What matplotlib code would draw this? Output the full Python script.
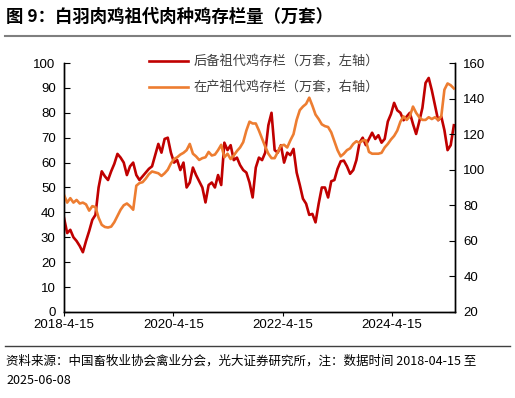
import numpy as np
import pandas as pd
import matplotlib
matplotlib.use('Agg')
import matplotlib.pyplot as plt
import matplotlib.dates as mdates

plt.rcParams['font.family'] = ['Liberation Sans', 'Noto Sans CJK SC', 'DejaVu Sans']

# weekly data sampled every 3 weeks, 2018-04-15 .. 2025-06
dates = pd.date_range('2018-04-15', periods=125, freq='21D')

# 后备祖代鸡存栏 (万套, 左轴)
reserve = [37.8, 31.7, 33, 30, 28.5, 26.5, 24, 28.5, 32.5, 37,
           39, 50, 56.5, 54.5, 53, 56.5, 59.5, 63.5, 62, 60,
           55, 58.5, 60, 55, 53, 54.5, 56, 57.5, 58.5, 63,
           67.5, 64, 69.5, 70, 64, 60, 61, 57, 60, 50,
           52, 58, 55, 52.5, 50, 44, 51, 52, 50, 55,
           51, 68, 65, 67, 61, 62, 59, 57, 56, 52,
           46, 58, 62, 61, 64, 75, 80, 65, 64, 67,
           60, 64, 63, 65.5, 56, 51, 45.5, 43.5, 39, 39.4,
           36, 43.5, 50, 50, 46, 52.5, 53, 57.5, 60.5, 60.8,
           58.5, 55.5, 57, 61, 68, 70, 67, 69.5, 72, 69.5,
           71, 68, 69.5, 76.5, 79.5, 84, 81, 80, 77, 78.5,
           80, 75.5, 71.5, 76.5, 82, 92, 94, 89, 83, 77,
           78.5, 73, 65, 67, 75]

# 在产祖代鸡存栏 (万套, 右轴)
producing = [85.8, 81.5, 84, 81.5, 83, 81, 81.5, 80.5, 77, 79.5,
             79, 73, 69, 67.8, 67.5, 68, 70.5, 74, 77.5, 80,
             81, 79.5, 77.5, 91, 92.5, 93, 95, 97.5, 99, 98.5,
             98, 96.5, 98, 100, 103.5, 106, 107, 108.5, 109.5, 111,
             114.5, 109, 107.5, 105.5, 106.5, 107, 110, 108, 108.5, 111,
             114, 107, 109, 106, 108, 110.5, 112.5, 115.5, 122, 127,
             126, 126, 122, 117.5, 113, 109, 106.5, 106.5, 110, 113.5,
             114, 112.5, 116.5, 120, 128, 133.5, 135.5, 137, 140.5, 136,
             131, 128.5, 125.5, 124.5, 124, 121, 116, 111, 107.5, 109,
             111, 112, 114.5, 116, 115, 116.5, 116.5, 110, 109, 109,
             109, 109.5, 112.5, 114.5, 117, 119, 122, 127, 130, 128,
             130, 135.5, 132, 129.5, 128, 128, 129.5, 128.5, 129.5, 128,
             130, 145, 148.5, 147.5, 145.7]

tick_dates = ['2018-04-15', '2020-04-15', '2022-04-15', '2024-04-15']
tick_labels = ['2018-4-15', '2020-4-15', '2022-4-15', '2024-4-15']

red = '#C00000'
orange = '#ED7D31'

fig = plt.figure(figsize=(5.15, 3.98), dpi=100)
ax = fig.add_axes([0.1243, 0.2161, 0.759, 0.6256])
ax2 = ax.twinx()

l1, = ax.plot(dates, reserve, color=red, lw=1.9)
l2, = ax2.plot(dates, producing, color=orange, lw=1.9)

ax.set_xlim(pd.Timestamp('2018-04-15'), pd.Timestamp('2025-06-08'))
ax.set_ylim(0, 100)
ax.set_yticks(range(0, 101, 10))
ax2.set_ylim(20, 160)
ax2.set_yticks(range(20, 161, 20))
ax.set_xticks([pd.Timestamp(d) for d in tick_dates])
ax.set_xticklabels(tick_labels)

for a in (ax, ax2):
    a.spines['top'].set_visible(False)
    for s in a.spines.values():
        s.set_linewidth(1.0)
ax.tick_params(axis='y', direction='in', length=4, labelsize=9.5, pad=6)
ax2.tick_params(axis='y', direction='in', length=4, labelsize=9.5, pad=6)
ax.tick_params(axis='x', direction='out', length=3, labelsize=9.5, pad=2)

leg = ax.legend([l1, l2], ['后备祖代鸡存栏（万套，左轴）', '在产祖代鸡存栏（万套，右轴）'],
                loc='upper left', bbox_to_anchor=(0.186, 1.08), frameon=False,
                prop={'family': ['Noto Sans CJK SC'], 'size': 9.5},
                handlelength=3.0, labelspacing=1.0, handletextpad=0.4)
for t in leg.get_texts():
    t.set_color('#404040')

fig.text(0.012, 0.957, '图 9：白羽肉鸡祖代肉种鸡存栏量（万套）', fontsize=12.5,
         fontweight='bold', family=['Noto Sans CJK SC'], va='center', ha='left')
fig.add_artist(plt.Line2D([0.01, 0.99], [0.909, 0.909], color='#7f7f7f', lw=1.5))
fig.add_artist(plt.Line2D([0.01, 0.99], [0.131, 0.131], color='#404040', lw=1.0))
fig.text(0.012, 0.093, '资料来源：中国畜牧业协会禽业分会，光大证券研究所，注：数据时间 2018-04-15 至',
         fontsize=9, family=['Noto Sans CJK SC'], va='center', ha='left')
fig.text(0.012, 0.045, '2025-06-08', fontsize=9, family=['Noto Sans CJK SC'],
         va='center', ha='left')

fig.savefig('out.png', dpi=100)
